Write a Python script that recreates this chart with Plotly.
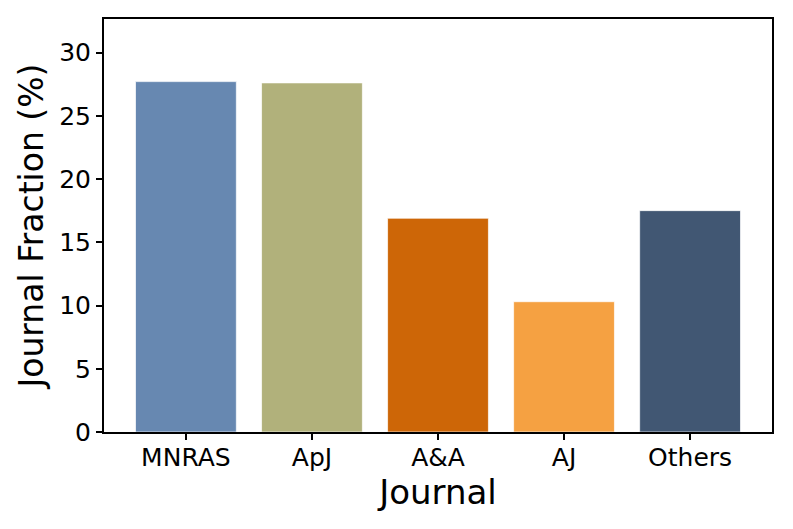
import plotly.graph_objects as go

journals = ["MNRAS", "ApJ", "A&A", "AJ", "Others"]
fractions = [27.7, 27.6, 16.9, 10.3, 17.5]
colors = ["#6788B1", "#B1B17B", "#CD6607", "#F5A142", "#415773"]
y_ticks = [0, 5, 10, 15, 20, 25, 30]

fig = go.Figure(go.Bar(
    x=list(range(len(journals))),
    y=fractions,
    width=0.8,
    marker=dict(color=colors, line=dict(color="rgba(255,255,255,0.7)", width=1)),
))

font = "DejaVu Sans, Verdana, sans-serif"
fig.update_layout(
    template="none",
    width=793, height=529,
    margin=dict(l=96, r=29, t=11, b=105),
    paper_bgcolor="white", plot_bgcolor="white",
    showlegend=False,
    font=dict(family=font, color="black", size=25),
    bargap=0.2,
)
fig.update_xaxes(
    automargin=False,
    range=[-0.65, 4.65],
    tickmode="array", tickvals=list(range(len(journals))), ticktext=journals,
    ticks="outside", ticklen=6, tickwidth=1.6, tickcolor="black",
    showline=True, linecolor="black", linewidth=2, mirror=True,
    showgrid=False, zeroline=False,
    tickfont=dict(size=25),
    ticklabelstandoff=-4,
    title=dict(text="Journal", font=dict(size=34), standoff=2),
)
fig.update_yaxes(
    automargin=False,
    range=[0, 32.65],
    tickmode="array", tickvals=y_ticks,
    ticks="outside", ticklen=6, tickwidth=1.6, tickcolor="black",
    showline=True, linecolor="black", linewidth=2, mirror=True,
    showgrid=False, zeroline=False,
    tickfont=dict(size=25),
    title=dict(text="Journal Fraction (%)", font=dict(size=33), standoff=6),
)

fig.write_html("out.html")
